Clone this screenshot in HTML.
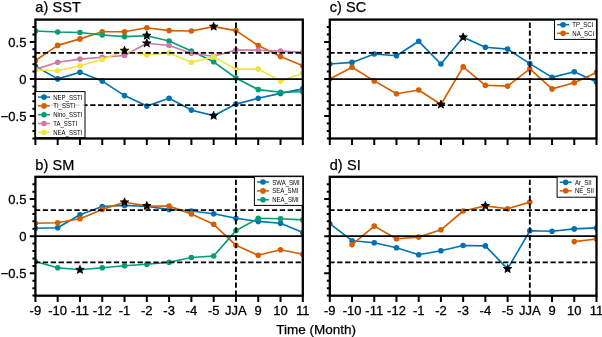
<!DOCTYPE html><html><head><meta charset="utf-8"><style>html,body{margin:0;padding:0;background:#fff;width:602px;height:337px;overflow:hidden}svg{display:block;filter:blur(0.3px)}</style></head><body><svg width="602" height="337" viewBox="0 0 602 337">
<rect x="0" y="0" width="602" height="337" fill="#fff"/>
<clipPath id="c1"><rect x="35.4" y="19.6" width="267.40" height="118.90"/></clipPath>
<text x="35.3" y="11.9" letter-spacing="0.1" font-family='"Liberation Sans", sans-serif' font-size="14.5" fill="#000" stroke="#000" stroke-width="0.25">a) SST</text>
<g clip-path="url(#c1)">
<polyline points="35.40,66.30 57.68,78.90 79.97,72.30 102.25,81.10 124.53,95.60 146.82,106.10 169.10,98.30 191.38,110.10 213.67,115.70 235.95,104.10 258.23,98.30 280.52,93.40 302.80,88.90" fill="none" stroke="#0072B2" stroke-width="1.65" stroke-linejoin="round"/>
<circle cx="35.40" cy="66.3" r="2.8" fill="#0072B2"/>
<circle cx="57.68" cy="78.9" r="2.8" fill="#0072B2"/>
<circle cx="79.97" cy="72.3" r="2.8" fill="#0072B2"/>
<circle cx="102.25" cy="81.1" r="2.8" fill="#0072B2"/>
<circle cx="124.53" cy="95.6" r="2.8" fill="#0072B2"/>
<circle cx="146.82" cy="106.1" r="2.8" fill="#0072B2"/>
<circle cx="169.10" cy="98.3" r="2.8" fill="#0072B2"/>
<circle cx="191.38" cy="110.1" r="2.8" fill="#0072B2"/>
<circle cx="213.67" cy="115.7" r="2.8" fill="#0072B2"/>
<circle cx="235.95" cy="104.1" r="2.8" fill="#0072B2"/>
<circle cx="258.23" cy="98.3" r="2.8" fill="#0072B2"/>
<circle cx="280.52" cy="93.4" r="2.8" fill="#0072B2"/>
<circle cx="302.80" cy="88.9" r="2.8" fill="#0072B2"/>
<polyline points="35.40,60.60 57.68,45.40 79.97,38.90 102.25,31.70 124.53,31.70 146.82,27.70 169.10,30.60 191.38,31.00 213.67,26.60 235.95,30.60 258.23,45.50 280.52,56.60 302.80,65.80" fill="none" stroke="#D55E00" stroke-width="1.65" stroke-linejoin="round"/>
<circle cx="35.40" cy="60.6" r="2.8" fill="#D55E00"/>
<circle cx="57.68" cy="45.4" r="2.8" fill="#D55E00"/>
<circle cx="79.97" cy="38.9" r="2.8" fill="#D55E00"/>
<circle cx="102.25" cy="31.7" r="2.8" fill="#D55E00"/>
<circle cx="124.53" cy="31.7" r="2.8" fill="#D55E00"/>
<circle cx="146.82" cy="27.7" r="2.8" fill="#D55E00"/>
<circle cx="169.10" cy="30.6" r="2.8" fill="#D55E00"/>
<circle cx="191.38" cy="31" r="2.8" fill="#D55E00"/>
<circle cx="213.67" cy="26.6" r="2.8" fill="#D55E00"/>
<circle cx="235.95" cy="30.6" r="2.8" fill="#D55E00"/>
<circle cx="258.23" cy="45.5" r="2.8" fill="#D55E00"/>
<circle cx="280.52" cy="56.6" r="2.8" fill="#D55E00"/>
<circle cx="302.80" cy="65.8" r="2.8" fill="#D55E00"/>
<polyline points="35.40,31.00 57.68,32.00 79.97,32.50 102.25,35.00 124.53,36.60 146.82,35.70 169.10,41.00 191.38,51.10 213.67,61.80 235.95,78.00 258.23,89.60 280.52,92.30 302.80,91.80" fill="none" stroke="#009E73" stroke-width="1.65" stroke-linejoin="round"/>
<circle cx="35.40" cy="31" r="2.8" fill="#009E73"/>
<circle cx="57.68" cy="32.0" r="2.8" fill="#009E73"/>
<circle cx="79.97" cy="32.5" r="2.8" fill="#009E73"/>
<circle cx="102.25" cy="35" r="2.8" fill="#009E73"/>
<circle cx="124.53" cy="36.6" r="2.8" fill="#009E73"/>
<circle cx="146.82" cy="35.7" r="2.8" fill="#009E73"/>
<circle cx="169.10" cy="41" r="2.8" fill="#009E73"/>
<circle cx="191.38" cy="51.1" r="2.8" fill="#009E73"/>
<circle cx="213.67" cy="61.8" r="2.8" fill="#009E73"/>
<circle cx="235.95" cy="78" r="2.8" fill="#009E73"/>
<circle cx="258.23" cy="89.6" r="2.8" fill="#009E73"/>
<circle cx="280.52" cy="92.3" r="2.8" fill="#009E73"/>
<circle cx="302.80" cy="91.8" r="2.8" fill="#009E73"/>
<polyline points="35.40,69.40 57.68,62.20 79.97,59.10 102.25,57.30 124.53,55.50 146.82,43.30 169.10,45.50 191.38,53.30 213.67,56.20 235.95,50.00 258.23,50.20 280.52,51.10 302.80,52.40" fill="none" stroke="#CC79A7" stroke-width="1.65" stroke-linejoin="round"/>
<circle cx="35.40" cy="69.4" r="2.8" fill="#CC79A7"/>
<circle cx="57.68" cy="62.2" r="2.8" fill="#CC79A7"/>
<circle cx="79.97" cy="59.1" r="2.8" fill="#CC79A7"/>
<circle cx="102.25" cy="57.3" r="2.8" fill="#CC79A7"/>
<circle cx="124.53" cy="55.5" r="2.8" fill="#CC79A7"/>
<circle cx="146.82" cy="43.3" r="2.8" fill="#CC79A7"/>
<circle cx="169.10" cy="45.5" r="2.8" fill="#CC79A7"/>
<circle cx="191.38" cy="53.3" r="2.8" fill="#CC79A7"/>
<circle cx="213.67" cy="56.2" r="2.8" fill="#CC79A7"/>
<circle cx="235.95" cy="50" r="2.8" fill="#CC79A7"/>
<circle cx="258.23" cy="50.2" r="2.8" fill="#CC79A7"/>
<circle cx="280.52" cy="51.1" r="2.8" fill="#CC79A7"/>
<circle cx="302.80" cy="52.4" r="2.8" fill="#CC79A7"/>
<polyline points="35.40,69.90 57.68,70.70 79.97,65.80 102.25,59.50 124.53,50.60 146.82,55.00 169.10,52.90 191.38,62.20 213.67,56.90 235.95,69.10 258.23,69.10 280.52,81.10 302.80,73.30" fill="none" stroke="#F0E442" stroke-width="1.65" stroke-linejoin="round"/>
<circle cx="35.40" cy="69.9" r="2.8" fill="#F0E442"/>
<circle cx="57.68" cy="70.7" r="2.8" fill="#F0E442"/>
<circle cx="79.97" cy="65.8" r="2.8" fill="#F0E442"/>
<circle cx="102.25" cy="59.5" r="2.8" fill="#F0E442"/>
<circle cx="124.53" cy="50.6" r="2.8" fill="#F0E442"/>
<circle cx="146.82" cy="55" r="2.8" fill="#F0E442"/>
<circle cx="169.10" cy="52.9" r="2.8" fill="#F0E442"/>
<circle cx="191.38" cy="62.2" r="2.8" fill="#F0E442"/>
<circle cx="213.67" cy="56.9" r="2.8" fill="#F0E442"/>
<circle cx="235.95" cy="69.1" r="2.8" fill="#F0E442"/>
<circle cx="258.23" cy="69.1" r="2.8" fill="#F0E442"/>
<circle cx="280.52" cy="81.1" r="2.8" fill="#F0E442"/>
<circle cx="302.80" cy="73.3" r="2.8" fill="#F0E442"/>
<line x1="35.4" y1="79.0" x2="302.8" y2="79.0" stroke="#000" stroke-width="1.75"/>
<line x1="35.4" y1="52.86" x2="302.8" y2="52.86" stroke="#000" stroke-width="1.85" stroke-dasharray="5.3 2.6" stroke-dashoffset="0.5"/>
<line x1="35.4" y1="105.14" x2="302.8" y2="105.14" stroke="#000" stroke-width="1.85" stroke-dasharray="5.3 2.6" stroke-dashoffset="0.5"/>
<line x1="235.95" y1="138.5" x2="235.95" y2="19.6" stroke="#000" stroke-width="1.85" stroke-dasharray="5.3 2.6"/>
<path d="M124.53,46.20 L125.52,49.24 L128.72,49.24 L126.13,51.12 L127.12,54.16 L124.53,52.28 L121.95,54.16 L122.93,51.12 L120.35,49.24 L123.55,49.24 Z" fill="#000" stroke="#000" stroke-width="0.9" stroke-linejoin="miter"/>
<path d="M146.82,31.20 L147.80,34.24 L151.00,34.24 L148.42,36.12 L149.40,39.16 L146.82,37.28 L144.23,39.16 L145.22,36.12 L142.63,34.24 L145.83,34.24 Z" fill="#000" stroke="#000" stroke-width="0.9" stroke-linejoin="miter"/>
<path d="M146.82,38.90 L147.80,41.94 L151.00,41.94 L148.42,43.82 L149.40,46.86 L146.82,44.98 L144.23,46.86 L145.22,43.82 L142.63,41.94 L145.83,41.94 Z" fill="#000" stroke="#000" stroke-width="0.9" stroke-linejoin="miter"/>
<path d="M213.67,22.20 L214.65,25.24 L217.85,25.24 L215.27,27.12 L216.25,30.16 L213.67,28.28 L211.08,30.16 L212.07,27.12 L209.48,25.24 L212.68,25.24 Z" fill="#000" stroke="#000" stroke-width="0.9" stroke-linejoin="miter"/>
<path d="M213.67,111.30 L214.65,114.34 L217.85,114.34 L215.27,116.22 L216.25,119.26 L213.67,117.38 L211.08,119.26 L212.07,116.22 L209.48,114.34 L212.68,114.34 Z" fill="#000" stroke="#000" stroke-width="0.9" stroke-linejoin="miter"/>
</g>
<path d="M35.40,138.5 V144.90 M57.68,138.5 V144.90 M79.97,138.5 V144.90 M102.25,138.5 V144.90 M124.53,138.5 V144.90 M146.82,138.5 V144.90 M169.10,138.5 V144.90 M191.38,138.5 V144.90 M213.67,138.5 V144.90 M235.95,138.5 V144.90 M258.23,138.5 V144.90 M280.52,138.5 V144.90 M302.80,138.5 V144.90 M35.4 ,138.40 H32.40 M35.4 ,130.97 H32.40 M35.4 ,123.55 H32.40 M35.4 ,116.12 H29.80 M35.4 ,108.70 H32.40 M35.4 ,101.28 H32.40 M35.4 ,93.85 H32.40 M35.4 ,86.42 H32.40 M35.4 ,79.00 H29.80 M35.4 ,71.58 H32.40 M35.4 ,64.15 H32.40 M35.4 ,56.72 H32.40 M35.4 ,49.30 H32.40 M35.4 ,41.88 H29.80 M35.4 ,34.45 H32.40 M35.4 ,27.02 H32.40" stroke="#000" stroke-width="2.0" fill="none"/>
<rect x="35.4" y="19.6" width="267.40" height="118.90" fill="none" stroke="#000" stroke-width="2.3"/>
<text x="26.4" y="46.98" text-anchor="end" font-family='"Liberation Sans", sans-serif' font-size="13" stroke="#000" stroke-width="0.3">0.5</text>
<text x="26.4" y="84.10" text-anchor="end" font-family='"Liberation Sans", sans-serif' font-size="13" stroke="#000" stroke-width="0.3">0</text>
<text x="26.4" y="121.22" text-anchor="end" font-family='"Liberation Sans", sans-serif' font-size="13" stroke="#000" stroke-width="0.3">−0.5</text>
<rect x="35.4" y="91.6" width="49.6" height="46.0" fill="#fff" fill-opacity="0.88" stroke="#000" stroke-width="1"/>
<line x1="38.0" y1="97.1" x2="50.0" y2="97.1" stroke="#0072B2" stroke-width="1.5"/>
<circle cx="44.0" cy="97.1" r="2.8" fill="#0072B2"/>
<text transform="translate(53.20,99.65) scale(0.85,1)" font-family='"Liberation Sans", sans-serif' font-size="7.1">NEP_SSTI</text>
<line x1="38.0" y1="105.9" x2="50.0" y2="105.9" stroke="#D55E00" stroke-width="1.5"/>
<circle cx="44.0" cy="105.9" r="2.8" fill="#D55E00"/>
<text transform="translate(53.20,108.45) scale(0.85,1)" font-family='"Liberation Sans", sans-serif' font-size="7.1">TI_SSTI</text>
<line x1="38.0" y1="114.7" x2="50.0" y2="114.7" stroke="#009E73" stroke-width="1.5"/>
<circle cx="44.0" cy="114.7" r="2.8" fill="#009E73"/>
<text transform="translate(53.20,117.25) scale(0.85,1)" font-family='"Liberation Sans", sans-serif' font-size="7.1">Nino_SSTI</text>
<line x1="38.0" y1="123.5" x2="50.0" y2="123.5" stroke="#CC79A7" stroke-width="1.5"/>
<circle cx="44.0" cy="123.5" r="2.8" fill="#CC79A7"/>
<text transform="translate(53.20,126.05) scale(0.85,1)" font-family='"Liberation Sans", sans-serif' font-size="7.1">TA_SSTI</text>
<line x1="38.0" y1="132.3" x2="50.0" y2="132.3" stroke="#F0E442" stroke-width="1.5"/>
<circle cx="44.0" cy="132.3" r="2.8" fill="#F0E442"/>
<text transform="translate(53.20,134.85) scale(0.85,1)" font-family='"Liberation Sans", sans-serif' font-size="7.1">NEA_SSTI</text>
<clipPath id="c2"><rect x="329.8" y="19.6" width="266.70" height="118.90"/></clipPath>
<text x="329.7" y="11.9" letter-spacing="0.1" font-family='"Liberation Sans", sans-serif' font-size="14.5" fill="#000" stroke="#000" stroke-width="0.25">c) SC</text>
<g clip-path="url(#c2)">
<polyline points="329.80,64.00 352.03,62.40 374.25,54.00 396.48,55.80 418.70,41.30 440.93,64.00 463.15,37.30 485.38,47.30 507.60,49.10 529.83,63.60 552.05,77.40 574.27,71.80 596.50,82.00" fill="none" stroke="#0072B2" stroke-width="1.65" stroke-linejoin="round"/>
<circle cx="329.80" cy="64" r="2.8" fill="#0072B2"/>
<circle cx="352.03" cy="62.4" r="2.8" fill="#0072B2"/>
<circle cx="374.25" cy="54" r="2.8" fill="#0072B2"/>
<circle cx="396.48" cy="55.8" r="2.8" fill="#0072B2"/>
<circle cx="418.70" cy="41.3" r="2.8" fill="#0072B2"/>
<circle cx="440.93" cy="64" r="2.8" fill="#0072B2"/>
<circle cx="463.15" cy="37.3" r="2.8" fill="#0072B2"/>
<circle cx="485.38" cy="47.3" r="2.8" fill="#0072B2"/>
<circle cx="507.60" cy="49.1" r="2.8" fill="#0072B2"/>
<circle cx="529.83" cy="63.6" r="2.8" fill="#0072B2"/>
<circle cx="552.05" cy="77.4" r="2.8" fill="#0072B2"/>
<circle cx="574.27" cy="71.8" r="2.8" fill="#0072B2"/>
<circle cx="596.50" cy="82" r="2.8" fill="#0072B2"/>
<polyline points="329.80,78.90 352.03,67.30 374.25,80.90 396.48,93.80 418.70,90.00 440.93,104.50 463.15,66.90 485.38,85.30 507.60,86.10 529.83,68.90 552.05,88.90 574.27,82.70 596.50,72.60" fill="none" stroke="#D55E00" stroke-width="1.65" stroke-linejoin="round"/>
<circle cx="329.80" cy="78.9" r="2.8" fill="#D55E00"/>
<circle cx="352.03" cy="67.3" r="2.8" fill="#D55E00"/>
<circle cx="374.25" cy="80.9" r="2.8" fill="#D55E00"/>
<circle cx="396.48" cy="93.8" r="2.8" fill="#D55E00"/>
<circle cx="418.70" cy="90" r="2.8" fill="#D55E00"/>
<circle cx="440.93" cy="104.5" r="2.8" fill="#D55E00"/>
<circle cx="463.15" cy="66.9" r="2.8" fill="#D55E00"/>
<circle cx="485.38" cy="85.3" r="2.8" fill="#D55E00"/>
<circle cx="507.60" cy="86.1" r="2.8" fill="#D55E00"/>
<circle cx="529.83" cy="68.9" r="2.8" fill="#D55E00"/>
<circle cx="552.05" cy="88.9" r="2.8" fill="#D55E00"/>
<circle cx="574.27" cy="82.7" r="2.8" fill="#D55E00"/>
<circle cx="596.50" cy="72.6" r="2.8" fill="#D55E00"/>
<line x1="329.8" y1="79.0" x2="596.5" y2="79.0" stroke="#000" stroke-width="1.75"/>
<line x1="329.8" y1="52.86" x2="596.5" y2="52.86" stroke="#000" stroke-width="1.85" stroke-dasharray="5.3 2.6" stroke-dashoffset="0.5"/>
<line x1="329.8" y1="105.14" x2="596.5" y2="105.14" stroke="#000" stroke-width="1.85" stroke-dasharray="5.3 2.6" stroke-dashoffset="0.5"/>
<line x1="529.83" y1="138.5" x2="529.83" y2="19.6" stroke="#000" stroke-width="1.85" stroke-dasharray="5.3 2.6"/>
<path d="M463.15,32.90 L464.14,35.94 L467.33,35.94 L464.75,37.82 L465.74,40.86 L463.15,38.98 L460.56,40.86 L461.55,37.82 L458.97,35.94 L462.16,35.94 Z" fill="#000" stroke="#000" stroke-width="0.9" stroke-linejoin="miter"/>
<path d="M440.93,100.10 L441.91,103.14 L445.11,103.14 L442.52,105.02 L443.51,108.06 L440.93,106.18 L438.34,108.06 L439.33,105.02 L436.74,103.14 L439.94,103.14 Z" fill="#000" stroke="#000" stroke-width="0.9" stroke-linejoin="miter"/>
</g>
<path d="M329.80,138.5 V144.90 M352.03,138.5 V144.90 M374.25,138.5 V144.90 M396.48,138.5 V144.90 M418.70,138.5 V144.90 M440.93,138.5 V144.90 M463.15,138.5 V144.90 M485.38,138.5 V144.90 M507.60,138.5 V144.90 M529.83,138.5 V144.90 M552.05,138.5 V144.90 M574.27,138.5 V144.90 M596.50,138.5 V144.90 M329.8 ,138.40 H326.80 M329.8 ,130.97 H326.80 M329.8 ,123.55 H326.80 M329.8 ,116.12 H324.20 M329.8 ,108.70 H326.80 M329.8 ,101.28 H326.80 M329.8 ,93.85 H326.80 M329.8 ,86.42 H326.80 M329.8 ,79.00 H324.20 M329.8 ,71.58 H326.80 M329.8 ,64.15 H326.80 M329.8 ,56.72 H326.80 M329.8 ,49.30 H326.80 M329.8 ,41.88 H324.20 M329.8 ,34.45 H326.80 M329.8 ,27.02 H326.80" stroke="#000" stroke-width="2.0" fill="none"/>
<rect x="329.8" y="19.6" width="266.70" height="118.90" fill="none" stroke="#000" stroke-width="2.3"/>
<rect x="554.5" y="19.6" width="42.0" height="19.8" fill="#fff" fill-opacity="0.88" stroke="#000" stroke-width="1"/>
<line x1="557.1" y1="24.7" x2="569.1" y2="24.7" stroke="#0072B2" stroke-width="1.5"/>
<circle cx="563.1" cy="24.7" r="2.8" fill="#0072B2"/>
<text transform="translate(572.30,27.25) scale(0.85,1)" font-family='"Liberation Sans", sans-serif' font-size="7.1">TP_SCI</text>
<line x1="557.1" y1="33.3" x2="569.1" y2="33.3" stroke="#D55E00" stroke-width="1.5"/>
<circle cx="563.1" cy="33.3" r="2.8" fill="#D55E00"/>
<text transform="translate(572.30,35.85) scale(0.85,1)" font-family='"Liberation Sans", sans-serif' font-size="7.1">NA_SCI</text>
<clipPath id="c3"><rect x="35.4" y="176.8" width="267.40" height="118.90"/></clipPath>
<text x="35.3" y="169.7" letter-spacing="0.1" font-family='"Liberation Sans", sans-serif' font-size="14.5" fill="#000" stroke="#000" stroke-width="0.25">b) SM</text>
<g clip-path="url(#c3)">
<polyline points="35.40,228.30 57.68,227.70 79.97,214.80 102.25,206.50 124.53,205.40 146.82,206.50 169.10,209.40 191.38,211.00 213.67,213.70 235.95,218.30 258.23,221.40 280.52,223.20 302.80,232.60" fill="none" stroke="#0072B2" stroke-width="1.65" stroke-linejoin="round"/>
<circle cx="35.40" cy="228.3" r="2.8" fill="#0072B2"/>
<circle cx="57.68" cy="227.7" r="2.8" fill="#0072B2"/>
<circle cx="79.97" cy="214.8" r="2.8" fill="#0072B2"/>
<circle cx="102.25" cy="206.5" r="2.8" fill="#0072B2"/>
<circle cx="124.53" cy="205.4" r="2.8" fill="#0072B2"/>
<circle cx="146.82" cy="206.5" r="2.8" fill="#0072B2"/>
<circle cx="169.10" cy="209.4" r="2.8" fill="#0072B2"/>
<circle cx="191.38" cy="211" r="2.8" fill="#0072B2"/>
<circle cx="213.67" cy="213.7" r="2.8" fill="#0072B2"/>
<circle cx="235.95" cy="218.3" r="2.8" fill="#0072B2"/>
<circle cx="258.23" cy="221.4" r="2.8" fill="#0072B2"/>
<circle cx="280.52" cy="223.2" r="2.8" fill="#0072B2"/>
<circle cx="302.80" cy="232.6" r="2.8" fill="#0072B2"/>
<polyline points="35.40,223.20 57.68,222.80 79.97,218.80 102.25,209.40 124.53,202.30 146.82,205.90 169.10,206.10 191.38,213.90 213.67,224.30 235.95,245.30 258.23,255.30 280.52,249.70 302.80,254.20" fill="none" stroke="#D55E00" stroke-width="1.65" stroke-linejoin="round"/>
<circle cx="35.40" cy="223.2" r="2.8" fill="#D55E00"/>
<circle cx="57.68" cy="222.8" r="2.8" fill="#D55E00"/>
<circle cx="79.97" cy="218.8" r="2.8" fill="#D55E00"/>
<circle cx="102.25" cy="209.4" r="2.8" fill="#D55E00"/>
<circle cx="124.53" cy="202.3" r="2.8" fill="#D55E00"/>
<circle cx="146.82" cy="205.9" r="2.8" fill="#D55E00"/>
<circle cx="169.10" cy="206.1" r="2.8" fill="#D55E00"/>
<circle cx="191.38" cy="213.9" r="2.8" fill="#D55E00"/>
<circle cx="213.67" cy="224.3" r="2.8" fill="#D55E00"/>
<circle cx="235.95" cy="245.3" r="2.8" fill="#D55E00"/>
<circle cx="258.23" cy="255.3" r="2.8" fill="#D55E00"/>
<circle cx="280.52" cy="249.7" r="2.8" fill="#D55E00"/>
<circle cx="302.80" cy="254.2" r="2.8" fill="#D55E00"/>
<polyline points="35.40,261.50 57.68,267.80 79.97,269.80 102.25,267.80 124.53,265.80 146.82,264.20 169.10,262.20 191.38,257.50 213.67,256.00 235.95,230.60 258.23,218.30 280.52,218.80 302.80,219.90" fill="none" stroke="#009E73" stroke-width="1.65" stroke-linejoin="round"/>
<circle cx="35.40" cy="261.5" r="2.8" fill="#009E73"/>
<circle cx="57.68" cy="267.8" r="2.8" fill="#009E73"/>
<circle cx="79.97" cy="269.8" r="2.8" fill="#009E73"/>
<circle cx="102.25" cy="267.8" r="2.8" fill="#009E73"/>
<circle cx="124.53" cy="265.8" r="2.8" fill="#009E73"/>
<circle cx="146.82" cy="264.2" r="2.8" fill="#009E73"/>
<circle cx="169.10" cy="262.2" r="2.8" fill="#009E73"/>
<circle cx="191.38" cy="257.5" r="2.8" fill="#009E73"/>
<circle cx="213.67" cy="256" r="2.8" fill="#009E73"/>
<circle cx="235.95" cy="230.6" r="2.8" fill="#009E73"/>
<circle cx="258.23" cy="218.3" r="2.8" fill="#009E73"/>
<circle cx="280.52" cy="218.8" r="2.8" fill="#009E73"/>
<circle cx="302.80" cy="219.9" r="2.8" fill="#009E73"/>
<line x1="35.4" y1="236.2" x2="302.8" y2="236.2" stroke="#000" stroke-width="1.75"/>
<line x1="35.4" y1="210.06" x2="302.8" y2="210.06" stroke="#000" stroke-width="1.85" stroke-dasharray="5.3 2.6" stroke-dashoffset="0.5"/>
<line x1="35.4" y1="262.34" x2="302.8" y2="262.34" stroke="#000" stroke-width="1.85" stroke-dasharray="5.3 2.6" stroke-dashoffset="0.5"/>
<line x1="235.95" y1="295.7" x2="235.95" y2="176.8" stroke="#000" stroke-width="1.85" stroke-dasharray="5.3 2.6"/>
<path d="M124.53,197.90 L125.52,200.94 L128.72,200.94 L126.13,202.82 L127.12,205.86 L124.53,203.98 L121.95,205.86 L122.93,202.82 L120.35,200.94 L123.55,200.94 Z" fill="#000" stroke="#000" stroke-width="0.9" stroke-linejoin="miter"/>
<path d="M146.82,201.50 L147.80,204.54 L151.00,204.54 L148.42,206.42 L149.40,209.46 L146.82,207.58 L144.23,209.46 L145.22,206.42 L142.63,204.54 L145.83,204.54 Z" fill="#000" stroke="#000" stroke-width="0.9" stroke-linejoin="miter"/>
<path d="M79.97,265.40 L80.95,268.44 L84.15,268.44 L81.57,270.32 L82.55,273.36 L79.97,271.48 L77.38,273.36 L78.37,270.32 L75.78,268.44 L78.98,268.44 Z" fill="#000" stroke="#000" stroke-width="0.9" stroke-linejoin="miter"/>
</g>
<path d="M35.40,295.7 V302.10 M57.68,295.7 V302.10 M79.97,295.7 V302.10 M102.25,295.7 V302.10 M124.53,295.7 V302.10 M146.82,295.7 V302.10 M169.10,295.7 V302.10 M191.38,295.7 V302.10 M213.67,295.7 V302.10 M235.95,295.7 V302.10 M258.23,295.7 V302.10 M280.52,295.7 V302.10 M302.80,295.7 V302.10 M35.4 ,295.60 H32.40 M35.4 ,288.18 H32.40 M35.4 ,280.75 H32.40 M35.4 ,273.32 H29.80 M35.4 ,265.90 H32.40 M35.4 ,258.47 H32.40 M35.4 ,251.05 H32.40 M35.4 ,243.62 H32.40 M35.4 ,236.20 H29.80 M35.4 ,228.77 H32.40 M35.4 ,221.35 H32.40 M35.4 ,213.92 H32.40 M35.4 ,206.50 H32.40 M35.4 ,199.07 H29.80 M35.4 ,191.65 H32.40 M35.4 ,184.22 H32.40" stroke="#000" stroke-width="2.0" fill="none"/>
<rect x="35.4" y="176.8" width="267.40" height="118.90" fill="none" stroke="#000" stroke-width="2.3"/>
<text x="26.4" y="204.17" text-anchor="end" font-family='"Liberation Sans", sans-serif' font-size="13" stroke="#000" stroke-width="0.3">0.5</text>
<text x="26.4" y="241.30" text-anchor="end" font-family='"Liberation Sans", sans-serif' font-size="13" stroke="#000" stroke-width="0.3">0</text>
<text x="26.4" y="278.43" text-anchor="end" font-family='"Liberation Sans", sans-serif' font-size="13" stroke="#000" stroke-width="0.3">−0.5</text>
<text x="35.40" y="314.50" text-anchor="middle" font-family='"Liberation Sans", sans-serif' font-size="13" stroke="#000" stroke-width="0.3">-9</text>
<text x="57.68" y="314.50" text-anchor="middle" font-family='"Liberation Sans", sans-serif' font-size="13" stroke="#000" stroke-width="0.3">-10</text>
<text x="79.97" y="314.50" text-anchor="middle" font-family='"Liberation Sans", sans-serif' font-size="13" stroke="#000" stroke-width="0.3">-11</text>
<text x="102.25" y="314.50" text-anchor="middle" font-family='"Liberation Sans", sans-serif' font-size="13" stroke="#000" stroke-width="0.3">-12</text>
<text x="124.53" y="314.50" text-anchor="middle" font-family='"Liberation Sans", sans-serif' font-size="13" stroke="#000" stroke-width="0.3">-1</text>
<text x="146.82" y="314.50" text-anchor="middle" font-family='"Liberation Sans", sans-serif' font-size="13" stroke="#000" stroke-width="0.3">-2</text>
<text x="169.10" y="314.50" text-anchor="middle" font-family='"Liberation Sans", sans-serif' font-size="13" stroke="#000" stroke-width="0.3">-3</text>
<text x="191.38" y="314.50" text-anchor="middle" font-family='"Liberation Sans", sans-serif' font-size="13" stroke="#000" stroke-width="0.3">-4</text>
<text x="213.67" y="314.50" text-anchor="middle" font-family='"Liberation Sans", sans-serif' font-size="13" stroke="#000" stroke-width="0.3">-5</text>
<text x="235.95" y="314.50" text-anchor="middle" font-family='"Liberation Sans", sans-serif' font-size="13" stroke="#000" stroke-width="0.3">JJA</text>
<text x="258.23" y="314.50" text-anchor="middle" font-family='"Liberation Sans", sans-serif' font-size="13" stroke="#000" stroke-width="0.3">9</text>
<text x="280.52" y="314.50" text-anchor="middle" font-family='"Liberation Sans", sans-serif' font-size="13" stroke="#000" stroke-width="0.3">10</text>
<text x="302.80" y="314.50" text-anchor="middle" font-family='"Liberation Sans", sans-serif' font-size="13" stroke="#000" stroke-width="0.3">11</text>
<rect x="254.4" y="176.4" width="48.4" height="29.0" fill="#fff" fill-opacity="0.88" stroke="#000" stroke-width="1"/>
<line x1="257.0" y1="182.0" x2="269.0" y2="182.0" stroke="#0072B2" stroke-width="1.5"/>
<circle cx="263.0" cy="182.0" r="2.8" fill="#0072B2"/>
<text transform="translate(272.20,184.55) scale(0.85,1)" font-family='"Liberation Sans", sans-serif' font-size="7.1">SWA_SMI</text>
<line x1="257.0" y1="190.9" x2="269.0" y2="190.9" stroke="#D55E00" stroke-width="1.5"/>
<circle cx="263.0" cy="190.9" r="2.8" fill="#D55E00"/>
<text transform="translate(272.20,193.45) scale(0.85,1)" font-family='"Liberation Sans", sans-serif' font-size="7.1">SEA_SMI</text>
<line x1="257.0" y1="199.8" x2="269.0" y2="199.8" stroke="#009E73" stroke-width="1.5"/>
<circle cx="263.0" cy="199.8" r="2.8" fill="#009E73"/>
<text transform="translate(272.20,202.35) scale(0.85,1)" font-family='"Liberation Sans", sans-serif' font-size="7.1">NEA_SMI</text>
<clipPath id="c4"><rect x="329.8" y="176.8" width="266.70" height="118.90"/></clipPath>
<text x="329.7" y="169.7" letter-spacing="0.1" font-family='"Liberation Sans", sans-serif' font-size="14.5" fill="#000" stroke="#000" stroke-width="0.25">d) SI</text>
<g clip-path="url(#c4)">
<polyline points="329.80,223.70 352.03,240.70 374.25,242.70 396.48,247.70 418.70,254.80 440.93,250.80 463.15,245.50 485.38,245.90 507.60,268.90 529.83,230.80 552.05,231.20 574.27,228.90 596.50,227.90" fill="none" stroke="#0072B2" stroke-width="1.65" stroke-linejoin="round"/>
<circle cx="329.80" cy="223.7" r="2.8" fill="#0072B2"/>
<circle cx="352.03" cy="240.7" r="2.8" fill="#0072B2"/>
<circle cx="374.25" cy="242.7" r="2.8" fill="#0072B2"/>
<circle cx="396.48" cy="247.7" r="2.8" fill="#0072B2"/>
<circle cx="418.70" cy="254.8" r="2.8" fill="#0072B2"/>
<circle cx="440.93" cy="250.8" r="2.8" fill="#0072B2"/>
<circle cx="463.15" cy="245.5" r="2.8" fill="#0072B2"/>
<circle cx="485.38" cy="245.9" r="2.8" fill="#0072B2"/>
<circle cx="507.60" cy="268.9" r="2.8" fill="#0072B2"/>
<circle cx="529.83" cy="230.8" r="2.8" fill="#0072B2"/>
<circle cx="552.05" cy="231.2" r="2.8" fill="#0072B2"/>
<circle cx="574.27" cy="228.9" r="2.8" fill="#0072B2"/>
<circle cx="596.50" cy="227.9" r="2.8" fill="#0072B2"/>
<polyline points="352.03,244.60 374.25,226.10 396.48,238.70 418.70,237.10 440.93,229.80 463.15,211.00 485.38,205.90 507.60,208.70 529.83,202.10" fill="none" stroke="#D55E00" stroke-width="1.65" stroke-linejoin="round"/>
<polyline points="574.27,241.60 596.50,239.00" fill="none" stroke="#D55E00" stroke-width="1.65" stroke-linejoin="round"/>
<circle cx="352.03" cy="244.6" r="2.8" fill="#D55E00"/>
<circle cx="374.25" cy="226.1" r="2.8" fill="#D55E00"/>
<circle cx="396.48" cy="238.7" r="2.8" fill="#D55E00"/>
<circle cx="418.70" cy="237.1" r="2.8" fill="#D55E00"/>
<circle cx="440.93" cy="229.8" r="2.8" fill="#D55E00"/>
<circle cx="463.15" cy="211" r="2.8" fill="#D55E00"/>
<circle cx="485.38" cy="205.9" r="2.8" fill="#D55E00"/>
<circle cx="507.60" cy="208.7" r="2.8" fill="#D55E00"/>
<circle cx="529.83" cy="202.1" r="2.8" fill="#D55E00"/>
<circle cx="574.27" cy="241.6" r="2.8" fill="#D55E00"/>
<circle cx="596.50" cy="239" r="2.8" fill="#D55E00"/>
<line x1="329.8" y1="236.2" x2="596.5" y2="236.2" stroke="#000" stroke-width="1.75"/>
<line x1="329.8" y1="210.06" x2="596.5" y2="210.06" stroke="#000" stroke-width="1.85" stroke-dasharray="5.3 2.6" stroke-dashoffset="0.5"/>
<line x1="329.8" y1="262.34" x2="596.5" y2="262.34" stroke="#000" stroke-width="1.85" stroke-dasharray="5.3 2.6" stroke-dashoffset="0.5"/>
<line x1="529.83" y1="295.7" x2="529.83" y2="176.8" stroke="#000" stroke-width="1.85" stroke-dasharray="5.3 2.6"/>
<path d="M485.38,201.50 L486.36,204.54 L489.56,204.54 L486.97,206.42 L487.96,209.46 L485.38,207.58 L482.79,209.46 L483.78,206.42 L481.19,204.54 L484.39,204.54 Z" fill="#000" stroke="#000" stroke-width="0.9" stroke-linejoin="miter"/>
<path d="M507.60,264.50 L508.59,267.54 L511.78,267.54 L509.20,269.42 L510.19,272.46 L507.60,270.58 L505.01,272.46 L506.00,269.42 L503.42,267.54 L506.61,267.54 Z" fill="#000" stroke="#000" stroke-width="0.9" stroke-linejoin="miter"/>
</g>
<path d="M329.80,295.7 V302.10 M352.03,295.7 V302.10 M374.25,295.7 V302.10 M396.48,295.7 V302.10 M418.70,295.7 V302.10 M440.93,295.7 V302.10 M463.15,295.7 V302.10 M485.38,295.7 V302.10 M507.60,295.7 V302.10 M529.83,295.7 V302.10 M552.05,295.7 V302.10 M574.27,295.7 V302.10 M596.50,295.7 V302.10 M329.8 ,295.60 H326.80 M329.8 ,288.18 H326.80 M329.8 ,280.75 H326.80 M329.8 ,273.32 H324.20 M329.8 ,265.90 H326.80 M329.8 ,258.47 H326.80 M329.8 ,251.05 H326.80 M329.8 ,243.62 H326.80 M329.8 ,236.20 H324.20 M329.8 ,228.77 H326.80 M329.8 ,221.35 H326.80 M329.8 ,213.92 H326.80 M329.8 ,206.50 H326.80 M329.8 ,199.07 H324.20 M329.8 ,191.65 H326.80 M329.8 ,184.22 H326.80" stroke="#000" stroke-width="2.0" fill="none"/>
<rect x="329.8" y="176.8" width="266.70" height="118.90" fill="none" stroke="#000" stroke-width="2.3"/>
<text x="329.80" y="314.50" text-anchor="middle" font-family='"Liberation Sans", sans-serif' font-size="13" stroke="#000" stroke-width="0.3">-9</text>
<text x="352.03" y="314.50" text-anchor="middle" font-family='"Liberation Sans", sans-serif' font-size="13" stroke="#000" stroke-width="0.3">-10</text>
<text x="374.25" y="314.50" text-anchor="middle" font-family='"Liberation Sans", sans-serif' font-size="13" stroke="#000" stroke-width="0.3">-11</text>
<text x="396.48" y="314.50" text-anchor="middle" font-family='"Liberation Sans", sans-serif' font-size="13" stroke="#000" stroke-width="0.3">-12</text>
<text x="418.70" y="314.50" text-anchor="middle" font-family='"Liberation Sans", sans-serif' font-size="13" stroke="#000" stroke-width="0.3">-1</text>
<text x="440.93" y="314.50" text-anchor="middle" font-family='"Liberation Sans", sans-serif' font-size="13" stroke="#000" stroke-width="0.3">-2</text>
<text x="463.15" y="314.50" text-anchor="middle" font-family='"Liberation Sans", sans-serif' font-size="13" stroke="#000" stroke-width="0.3">-3</text>
<text x="485.38" y="314.50" text-anchor="middle" font-family='"Liberation Sans", sans-serif' font-size="13" stroke="#000" stroke-width="0.3">-4</text>
<text x="507.60" y="314.50" text-anchor="middle" font-family='"Liberation Sans", sans-serif' font-size="13" stroke="#000" stroke-width="0.3">-5</text>
<text x="529.83" y="314.50" text-anchor="middle" font-family='"Liberation Sans", sans-serif' font-size="13" stroke="#000" stroke-width="0.3">JJA</text>
<text x="552.05" y="314.50" text-anchor="middle" font-family='"Liberation Sans", sans-serif' font-size="13" stroke="#000" stroke-width="0.3">9</text>
<text x="574.27" y="314.50" text-anchor="middle" font-family='"Liberation Sans", sans-serif' font-size="13" stroke="#000" stroke-width="0.3">10</text>
<text x="596.50" y="314.50" text-anchor="middle" font-family='"Liberation Sans", sans-serif' font-size="13" stroke="#000" stroke-width="0.3">11</text>
<rect x="557.1" y="176.8" width="39.4" height="20.4" fill="#fff" fill-opacity="0.88" stroke="#000" stroke-width="1"/>
<line x1="559.7" y1="182.2" x2="571.7" y2="182.2" stroke="#0072B2" stroke-width="1.5"/>
<circle cx="565.7" cy="182.2" r="2.8" fill="#0072B2"/>
<text transform="translate(574.90,184.75) scale(0.85,1)" font-family='"Liberation Sans", sans-serif' font-size="7.1">Ar_SII</text>
<line x1="559.7" y1="190.8" x2="571.7" y2="190.8" stroke="#D55E00" stroke-width="1.5"/>
<circle cx="565.7" cy="190.8" r="2.8" fill="#D55E00"/>
<text transform="translate(574.90,193.35) scale(0.85,1)" font-family='"Liberation Sans", sans-serif' font-size="7.1">NE_SII</text>
<text x="316.1" y="333.5" text-anchor="middle" font-family='"Liberation Sans", sans-serif' font-size="13.5" stroke="#000" stroke-width="0.25">Time (Month)</text>
</svg></body></html>
